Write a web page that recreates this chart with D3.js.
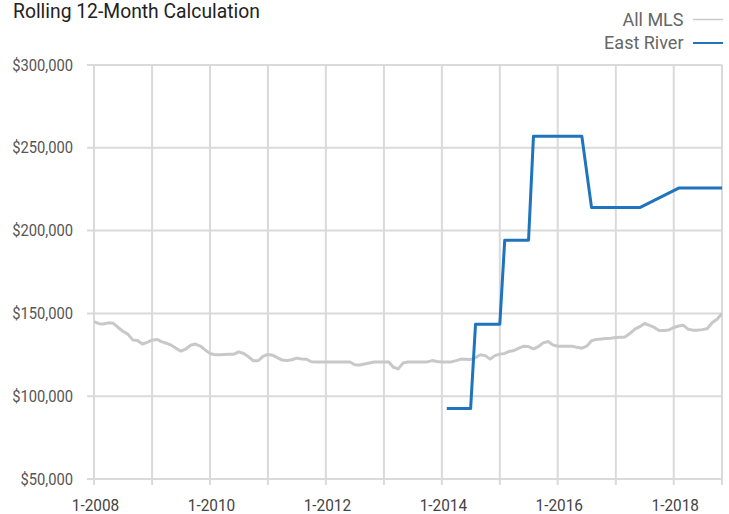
<!DOCTYPE html>
<html>
<head>
<meta charset="utf-8">
<style>
body { margin: 0; background: #fff; }
text { font-family: Roboto, "Liberation Sans", sans-serif; }
</style>
</head>
<body>
<svg width="729" height="514"></svg>
<script src="https://d3js.org/d3.v7.min.js"></script>
<script>
// monthly values, Jan 2008 .. Nov 2018
var allMLS = [
  145, 143.8, 143.6, 144.3, 144, 141.5, 139.2, 137.5, 134, 133.6, 131.5, 132.5,
  133.8, 134.3, 133, 132, 130.8, 129, 127.2, 128.5, 130.8, 131.5, 130.3, 128,
  125.8, 125, 125, 125.2, 125.3, 125.4, 126.8, 125.8, 123.8, 121.4, 121.4, 124,
  125.2, 124.7, 123.3, 121.8, 121.6, 122, 123, 122.5, 122.3, 120.8, 120.7, 120.7,
  120.7, 120.7, 120.7, 120.7, 120.7, 120.7, 119, 118.8, 119.4, 120, 120.7, 120.7,
  120.7, 120.7, 117.5, 116.5, 120, 120.6, 120.7, 120.7, 120.7, 120.7, 121.5, 121,
  120.7, 120.7, 120.7, 121.5, 122.4, 122.3, 122.2, 123.3, 125, 124.5, 122.4, 124.5,
  125.4, 125.8, 127, 127.6, 129, 130.2, 130, 128.6, 130, 132.2, 133, 131,
  130.2, 130.2, 130.2, 130.2, 129.5, 129, 130.2, 133.5, 134.3, 134.5, 134.9, 135,
  135.4, 135.6, 135.8, 138, 140.5, 142, 143.9, 142.8, 141.5, 139.6, 139.7, 140,
  141.5, 142.4, 142.9, 140.5, 139.9, 139.9, 140.2, 140.9, 144.5, 146.5, 149.9
];
// East River starts Feb 2014 (month index 73); null = no value reported
var eastRiverStart = 73;
var eastRiver = [
  92.5, 92.5, 92.5, 92.5, 92.5, 92.5,
  143.5, 143.5, 143.5, 143.5, 143.5, 143.5,
  194.2, 194.2, 194.2, 194.2, 194.2, 194.2,
  256.9, 256.9, 256.9, 256.9, 256.9, 256.9, 256.9, 256.9, 256.9, 256.9, 256.9,
  null,
  213.9, 213.9, 213.9, 213.9, 213.9, 213.9, 213.9, 213.9, 213.9, 213.9, 213.9,
  null, null, null, null, null, null, null,
  225.7, 225.7, 225.7, 225.7, 225.7, 225.7, 225.7, 225.7, 225.7, 225.7
];
var yTicks = [50000, 100000, 150000, 200000, 250000, 300000];
var xLabelYears = [2008, 2010, 2012, 2014, 2016, 2018];

function monthDate(i) { return new Date(2008, i, 1); }

// squeeze text a bit, the original font is narrower than Roboto
function condense(sel, ratio) {
  sel.each(function() {
    var w = this.getComputedTextLength();
    d3.select(this).attr("textLength", w * ratio).attr("lengthAdjust", "spacingAndGlyphs");
  });
}

var svg = d3.select("svg"),
    margin = {top: 65, right: 7, bottom: 35, left: 94},
    width = 729 - margin.left - margin.right,
    height = 514 - margin.top - margin.bottom,
    g = svg.append("g").attr("transform", "translate(" + margin.left + "," + margin.top + ")");

var x = d3.scaleTime()
    .domain([monthDate(0), monthDate(allMLS.length - 1)])
    .range([0, width]);
var y = d3.scaleLinear()
    .domain([50000, 300000])
    .range([height, 0]);

var grid = "#dadada";

// horizontal grid
g.append("g").selectAll("line")
  .data(yTicks)
  .enter().append("line")
    .attr("x1", -7).attr("x2", width)
    .attr("y1", function(d) { return y(d); })
    .attr("y2", function(d) { return y(d); })
    .attr("stroke", grid).attr("stroke-width", 2);

// vertical grid: every January plus the end of the range
var vLines = d3.range(2008, 2019).map(function(yr) { return new Date(yr, 0, 1); });
vLines.push(monthDate(allMLS.length - 1));
g.append("g").selectAll("line")
  .data(vLines)
  .enter().append("line")
    .attr("x1", function(d) { return x(d); })
    .attr("x2", function(d) { return x(d); })
    .attr("y1", 0).attr("y2", height + 6)
    .attr("stroke", grid).attr("stroke-width", 2);

// y labels
g.append("g").selectAll("text")
  .data(yTicks)
  .enter().append("text")
    .attr("x", -21)
    .attr("y", function(d) { return y(d); })
    .attr("dy", "0.35em")
    .attr("text-anchor", "end")
    .attr("font-size", 16)
    .attr("fill", "#555")
    .text(function(d) { return "$" + d3.format(",")(d); })
    .call(condense, 0.92);

// x labels
g.append("g").selectAll("text")
  .data(xLabelYears)
  .enter().append("text")
    .attr("x", function(d) { return x(new Date(d, 0, 1)) + 1.5; })
    .attr("y", height + 26)
    .attr("dy", "0.35em")
    .attr("text-anchor", "middle")
    .attr("font-size", 16)
    .attr("fill", "#444")
    .text(function(d) { return "1-" + d; })
    .call(condense, 0.96);

var line = d3.line()
    .x(function(d) { return x(d.date); })
    .y(function(d) { return y(d.value); });

var mlsData = allMLS.map(function(v, i) { return {date: monthDate(i), value: v * 1000}; });
var erData = eastRiver.map(function(v, i) {
  return {date: monthDate(eastRiverStart + i), value: v == null ? null : v * 1000};
}).filter(function(d) { return d.value != null; });

g.append("path")
    .datum(mlsData)
    .attr("fill", "none")
    .attr("stroke", "#c8c8c8")
    .attr("stroke-width", 3)
    .attr("stroke-linejoin", "round")
    .attr("d", line);

g.append("path")
    .datum(erData)
    .attr("fill", "none")
    .attr("stroke", "#1f74bd")
    .attr("stroke-width", 3)
    .attr("stroke-linejoin", "round")
    .attr("d", line);

// title
svg.append("text")
    .attr("x", 13).attr("y", 17.5)
    .attr("font-size", 20)
    .attr("fill", "#222")
    .text("Rolling 12-Month Calculation")
    .call(condense, 0.965);

// legend
var legend = svg.append("g")
  .selectAll("g")
  .data([{name: "All MLS", color: "#c8c8c8", w: 1.5, y: 19.5},
         {name: "East River", color: "#1f74bd", w: 2, y: 43}])
  .enter().append("g");
legend.append("text")
    .attr("x", 683.5)
    .attr("y", function(d) { return d.y; })
    .attr("dy", "0.35em")
    .attr("text-anchor", "end")
    .attr("font-size", 18)
    .attr("fill", "#666")
    .text(function(d) { return d.name; });
legend.append("line")
    .attr("x1", 693).attr("x2", 723)
    .attr("y1", function(d) { return d.y; })
    .attr("y2", function(d) { return d.y; })
    .attr("stroke", function(d) { return d.color; })
    .attr("stroke-width", function(d) { return d.w; });
</script>
</body>
</html>
